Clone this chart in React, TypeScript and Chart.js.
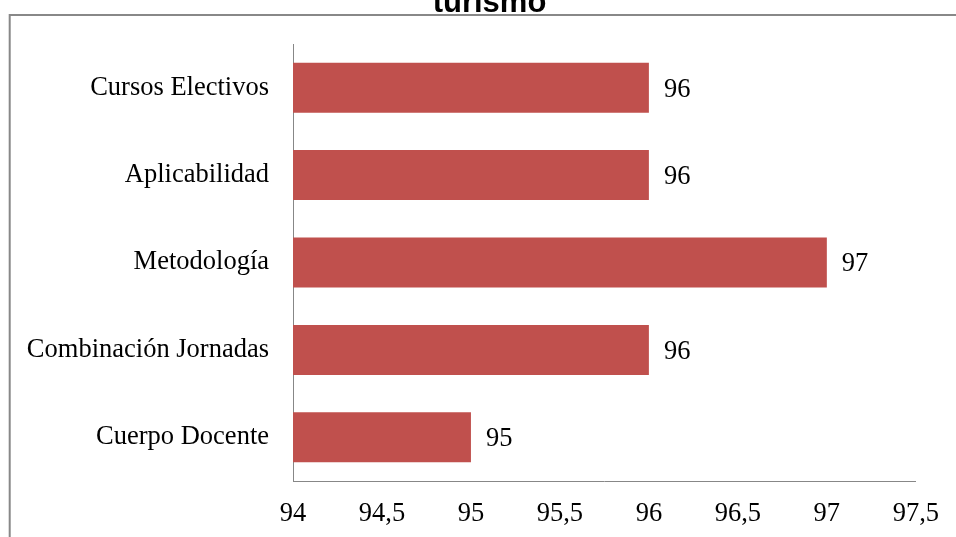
import React, { useEffect, useRef } from "react";
import { Chart, registerables } from "chart.js";

Chart.register(...registerables);

// Survey categories (top to bottom) and their scores
const categories = [
  "Cursos Electivos",
  "Aplicabilidad",
  "Metodología",
  "Combinación Jornadas",
  "Cuerpo Docente",
];
const scores = [96, 96, 97, 96, 95];

// Value axis range and step
const axisMin = 94;
const axisMax = 97.5;
const axisStep = 0.5;

const titleText = "turismo";

const SERIF = "'Liberation Serif', 'Times New Roman', serif";
const SANS = "'Liberation Sans', Arial, sans-serif";
const BAR_COLOR = "#C0504D";
const AXIS_COLOR = "#878787";
const LABEL_SIZE = 26.5;

const formatComma = (v: number) => String(v).replace(".", ",");

// Outer frame and the (partly cut off) title above it
const framePlugin = {
  id: "frame",
  beforeDraw(chart: any) {
    const ctx = chart.ctx;
    ctx.save();
    ctx.fillStyle = "#ffffff";
    ctx.fillRect(0, 0, chart.width, chart.height);
    ctx.strokeStyle = "#888888";
    ctx.lineWidth = 2;
    ctx.strokeRect(9.7, 15, chart.width + 20, chart.height + 20);
    ctx.fillStyle = "#000000";
    ctx.font = `bold 31px ${SANS}`;
    ctx.textAlign = "center";
    ctx.textBaseline = "alphabetic";
    ctx.fillText(titleText, 489.5, 12);
    ctx.restore();
  },
};

// Value labels to the right of each bar
const valueLabelPlugin = {
  id: "valueLabels",
  afterDatasetsDraw(chart: any) {
    const ctx = chart.ctx;
    const meta = chart.getDatasetMeta(0);
    ctx.save();
    ctx.fillStyle = "#000000";
    ctx.font = `${LABEL_SIZE}px ${SERIF}`;
    ctx.textAlign = "left";
    ctx.textBaseline = "middle";
    meta.data.forEach((bar: any, i: number) => {
      ctx.fillText(String(scores[i]), bar.x + 15, bar.y + 2);
    });
    ctx.restore();
  },
};

export default function App() {
  const canvasRef = useRef<HTMLCanvasElement | null>(null);

  useEffect(() => {
    document.body.style.margin = "0";
    const canvas = canvasRef.current;
    if (!canvas) return;
    const chart = new Chart(canvas, {
      type: "bar",
      data: {
        labels: categories,
        datasets: [
          {
            data: scores,
            backgroundColor: BAR_COLOR,
            borderWidth: 0,
            barPercentage: 0.572,
            categoryPercentage: 1,
            base: axisMin,
          },
        ],
      },
      options: {
        indexAxis: "y",
        responsive: false,
        animation: false,
        devicePixelRatio: 1,
        layout: { padding: { left: 0, right: 35, top: 44, bottom: 0 } },
        plugins: {
          legend: { display: false },
          tooltip: { enabled: false },
          title: { display: false },
        },
        scales: {
          x: {
            type: "linear",
            min: axisMin,
            max: axisMax,
            afterFit: (s: any) => {
              s.height = 56;
            },
            afterBuildTicks: (s: any) => {
              const ticks = [];
              for (let v = axisMin; v <= axisMax + 1e-9; v += axisStep) ticks.push({ value: v });
              s.ticks = ticks;
            },
            grid: { display: false, drawTicks: false },
            border: { display: true, color: AXIS_COLOR, width: 1 },
            ticks: {
              color: "#000000",
              font: { family: SERIF, size: LABEL_SIZE },
              padding: 17,
              maxRotation: 0,
              autoSkip: false,
              callback: (v: any) => formatComma(Number(v)),
            },
          },
          y: {
            type: "category",
            afterFit: (s: any) => {
              s.width = 293;
            },
            grid: { display: false, drawTicks: false },
            border: { display: true, color: AXIS_COLOR, width: 1 },
            ticks: {
              color: "#000000",
              font: { family: SERIF, size: LABEL_SIZE },
              padding: 24,
              autoSkip: false,
            },
          },
        },
      },
      plugins: [framePlugin, valueLabelPlugin],
    });
    return () => chart.destroy();
  }, []);

  return (
    <div style={{ width: 956, height: 537 }}>
      <canvas ref={canvasRef} width={956} height={537} />
    </div>
  );
}
